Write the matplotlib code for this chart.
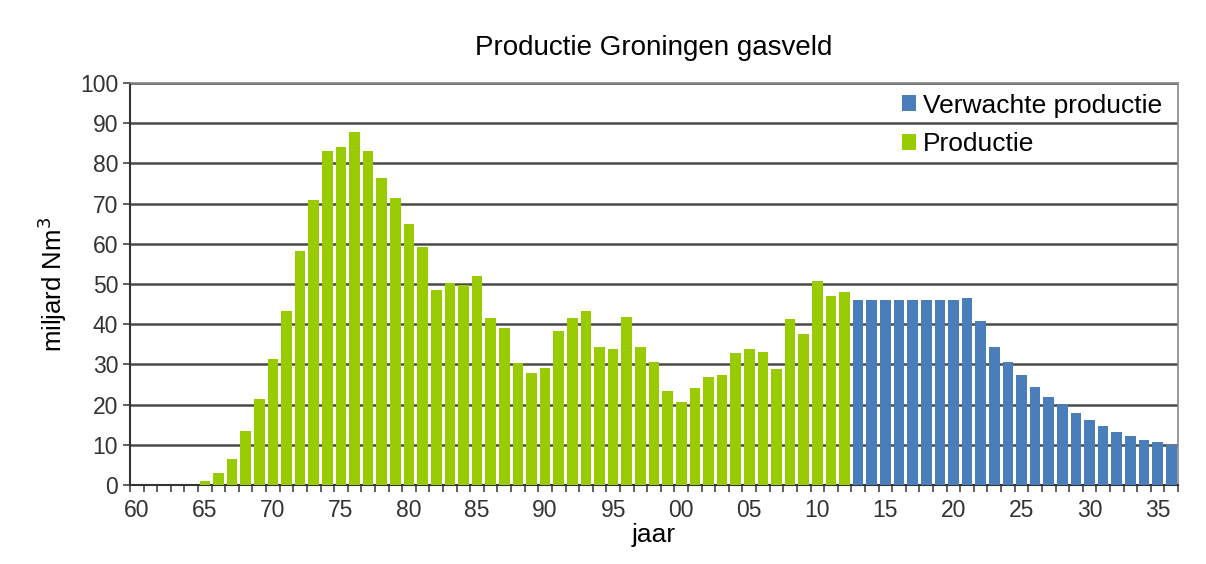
import numpy as np
import matplotlib.pyplot as plt

plt.rcParams['font.family'] = ['Liberation Sans', 'DejaVu Sans']

# jaren 1960 - 2036
years = list(range(1960, 2037))

# gerealiseerde productie 1965 - 2012 (miljard Nm3)
prod_years = list(range(1965, 2013))
productie = [1, 2.9, 6.4, 13.4, 21.3, 31.3, 43.3, 58.1, 71, 83,
             84.2, 87.7, 83, 76.3, 71.4, 64.9, 59.1, 48.5, 50.2, 49.8,
             52, 41.5, 39, 30.3, 27.8, 29, 38.2, 41.5, 43.2, 34.4,
             33.8, 41.9, 34.4, 30.5, 23.5, 20.7, 24.1, 26.8, 27.4, 32.8,
             33.8, 33, 28.8, 41.2, 37.5, 50.8, 46.9, 47.9]

# verwachte productie 2013 - 2036
exp_years = list(range(2013, 2037))
verwacht = [46.1, 46.1, 46.1, 46.1, 46.1, 46.1, 46.1, 46.1, 46.4, 40.9,
            34.4, 30.5, 27.4, 24.5, 21.8, 20.2, 17.8, 16.2, 14.7, 13.3,
            12.3, 11.2, 10.6, 10]

green = '#99cc00'
blue = '#4a7ebb'

fig = plt.figure(figsize=(12.06, 5.64), dpi=100)
ax = fig.add_axes([130 / 1206, 1 - 485 / 564, 1048 / 1206, 402 / 564])

x_prod = [years.index(y) for y in prod_years]
x_exp = [years.index(y) for y in exp_years]
ax.bar(x_exp, verwacht, width=0.78, color=blue, label='Verwachte productie', zorder=3)
ax.bar(x_prod, productie, width=0.78, color=green, label='Productie', zorder=3)

ax.set_xlim(-0.5, len(years) - 0.5)
ax.set_ylim(0, 100)
ax.set_yticks(range(0, 101, 10))
ax.grid(axis='y', color='#4a4a4a', linewidth=1.8, zorder=0)

major = [i for i, y in enumerate(years) if y % 5 == 0]
ax.set_xticks(major)
ax.set_xticklabels(['%02d' % (years[i] % 100) for i in major])
ax.set_xticks(np.arange(-0.5, len(years), 1), minor=True)
ax.tick_params(axis='x', which='major', length=0, labelsize=16.5, pad=10, labelcolor='#333333')
ax.tick_params(axis='x', which='minor', length=5, width=1.2, color='#444444')
ax.tick_params(axis='y', length=5, width=1.2, labelsize=16.5, labelcolor='#333333', color='#444444')

for s in ['left', 'bottom']:
    ax.spines[s].set_color('#333333')
    ax.spines[s].set_linewidth(1.5)
for s in ['top', 'right']:
    ax.spines[s].set_color('#888888')
    ax.spines[s].set_linewidth(1.2)

ax.set_xlabel('jaar', fontsize=19, labelpad=1)
ax.set_ylabel('miljard Nm$^3$', fontsize=18.5, labelpad=8)
ax.set_title('Productie Groningen gasveld', fontsize=20, pad=20)

ax.legend(loc='upper right', frameon=False, fontsize=19, handlelength=0.55,
          handleheight=0.55, handletextpad=0.25, labelspacing=0.55,
          borderaxespad=0.0, bbox_to_anchor=(0.995, 1.0))

fig.savefig('out.png', dpi=100, facecolor='white')
